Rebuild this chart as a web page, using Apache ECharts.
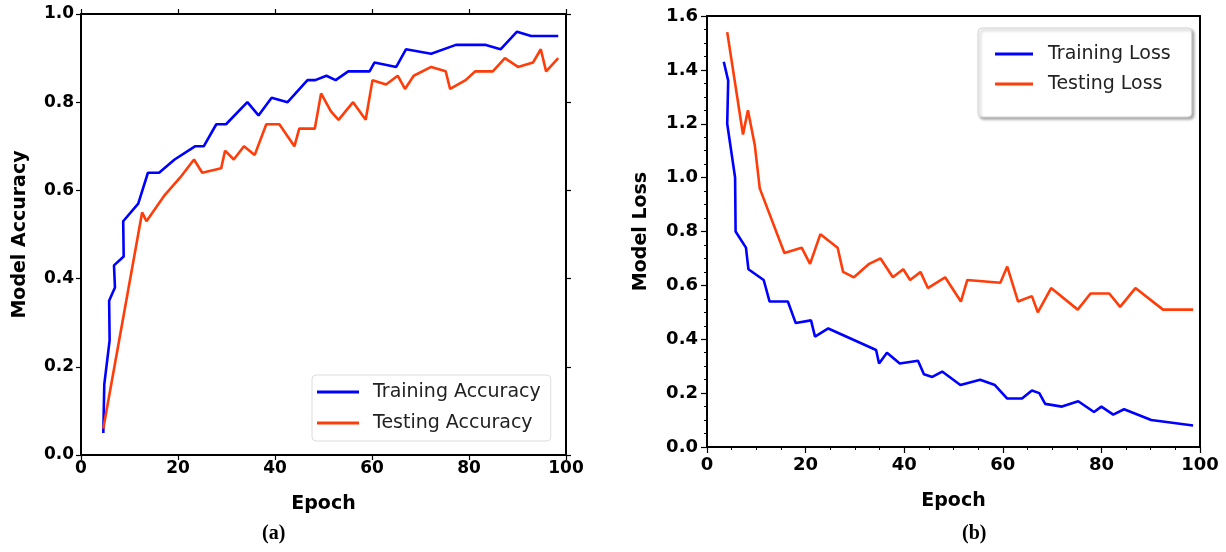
<!DOCTYPE html>
<html>
<head>
<meta charset="utf-8">
<script src="https://cdn.jsdelivr.net/npm/echarts@6/dist/echarts.min.js"></script>
<style>
  html, body { margin: 0; padding: 0; background: #ffffff; }
  #chart { width: 1226px; height: 552px; }
</style>
</head>
<body>
<div id="chart"></div>
<script>
// Accuracy panel (a): epoch positions and values
const accTrainEpoch = [4.6, 4.8, 5.9, 5.8, 7.0, 6.8, 8.8, 8.7, 11.8, 13.8, 16.1, 19.3, 23.5, 25.3, 27.9, 29.9, 34.3, 36.6, 39.3, 42.6, 46.7, 48.3, 50.6, 52.5, 55.1, 59.5, 60.5, 65.0, 67.0, 72.2, 77.3, 83.3, 86.5, 89.9, 92.8, 98.4];
const accTrainValue = [0.05, 0.16, 0.26, 0.35, 0.38, 0.43, 0.45, 0.53, 0.57, 0.64, 0.64, 0.67, 0.70, 0.70, 0.75, 0.75, 0.80, 0.77, 0.81, 0.80, 0.85, 0.85, 0.86, 0.85, 0.87, 0.87, 0.89, 0.88, 0.92, 0.91, 0.93, 0.93, 0.92, 0.96, 0.95, 0.95];
const accTestEpoch = [4.6, 12.6, 13.5, 17.3, 20.5, 23.3, 25.0, 28.9, 29.7, 31.5, 33.6, 35.8, 38.2, 40.9, 44.0, 45.0, 48.2, 49.5, 51.5, 53.1, 56.1, 58.7, 60.1, 62.9, 65.3, 66.8, 68.6, 72.2, 75.2, 76.1, 79.3, 81.3, 84.9, 87.4, 90.1, 93.2, 94.8, 95.9, 98.4];
const accTestValue = [0.06, 0.55, 0.53, 0.59, 0.63, 0.67, 0.64, 0.65, 0.69, 0.67, 0.70, 0.68, 0.75, 0.75, 0.70, 0.74, 0.74, 0.82, 0.78, 0.76, 0.80, 0.76, 0.85, 0.84, 0.86, 0.83, 0.86, 0.88, 0.87, 0.83, 0.85, 0.87, 0.87, 0.90, 0.88, 0.89, 0.92, 0.87, 0.90];

// Loss panel (b): epoch positions and values
const lossTrainEpoch = [3.4, 4.3, 4.1, 5.7, 5.8, 7.9, 8.4, 11.5, 12.7, 16.4, 18.0, 21.1, 21.9, 24.6, 34.3, 34.9, 36.5, 39.1, 42.8, 44.0, 45.7, 47.7, 51.4, 55.4, 58.4, 60.9, 63.9, 65.9, 67.4, 68.6, 72.0, 75.3, 78.5, 80.0, 82.4, 84.6, 90.1, 98.6];
const lossTrainValue = [1.43, 1.36, 1.20, 1.00, 0.80, 0.74, 0.66, 0.62, 0.54, 0.54, 0.46, 0.47, 0.41, 0.44, 0.36, 0.31, 0.35, 0.31, 0.32, 0.27, 0.26, 0.28, 0.23, 0.25, 0.23, 0.18, 0.18, 0.21, 0.20, 0.16, 0.15, 0.17, 0.13, 0.15, 0.12, 0.14, 0.10, 0.08];
const lossTestEpoch = [4.1, 7.3, 8.3, 9.7, 10.7, 15.7, 19.2, 20.9, 23.0, 26.5, 27.6, 29.8, 32.9, 35.2, 37.7, 39.8, 41.2, 43.3, 44.8, 48.3, 51.5, 52.8, 59.5, 60.9, 63.1, 65.9, 67.1, 69.8, 75.2, 77.8, 81.6, 83.8, 86.9, 92.5, 98.6];
const lossTestValue = [1.54, 1.16, 1.25, 1.12, 0.96, 0.72, 0.74, 0.68, 0.79, 0.74, 0.65, 0.63, 0.68, 0.70, 0.63, 0.66, 0.62, 0.65, 0.59, 0.63, 0.54, 0.62, 0.61, 0.67, 0.54, 0.56, 0.50, 0.59, 0.51, 0.57, 0.57, 0.52, 0.59, 0.51, 0.51];

// Axis tick labels
const epochTicks = ['0', '20', '40', '60', '80', '100'];
const accTicks = ['0.0', '0.2', '0.4', '0.6', '0.8', '1.0'];
const lossTicks = ['0.0', '0.2', '0.4', '0.6', '0.8', '1.0', '1.2', '1.4', '1.6'];

const BLUE = '#0000ff';
const RED = '#ff3d0a';
const SANS = 'DejaVu Sans';

const zip = (xs, ys) => xs.map((x, i) => [x, ys[i]]);

const chart = echarts.init(document.getElementById('chart'), null, { renderer: 'canvas' });

// Shared look for every axis line that frames a panel
function frameAxis(extra) {
  return Object.assign({
    type: 'value',
    axisLine: { show: true, onZero: false, lineStyle: { color: '#000', width: 2 } },
    axisTick: { show: false },
    axisLabel: { show: false },
    splitLine: { show: false },
    z: 5
  }, extra);
}

function labelStyle(size) {
  return { color: '#000', fontFamily: SANS, fontWeight: 'bold', fontSize: size };
}

const tickStyle = (len) => ({ show: true, inside: false, length: len, lineStyle: { color: '#000', width: 1.2 } });
const nameStyle = { fontFamily: SANS, fontWeight: 'bold', fontSize: 19, color: '#000' };

const option = {
  backgroundColor: '#ffffff',
  animation: false,
  grid: [
    { left: 81, top: 14, width: 485, height: 441 },
    { left: 707, top: 16, width: 493, height: 431 }
  ],
  xAxis: [
    frameAxis({
      gridIndex: 0, position: 'bottom', min: 0, max: 100, interval: 20,
      axisTick: tickStyle(5),
      axisLabel: { show: true, margin: 5, ...labelStyle(17), formatter: v => epochTicks[v / 20] },
      name: 'Epoch', nameLocation: 'middle', nameGap: 40, nameTextStyle: nameStyle
    }),
    frameAxis({
      gridIndex: 0, position: 'top', min: 0, max: 100, interval: 20,
      axisTick: tickStyle(5)
    }),
    frameAxis({
      gridIndex: 1, position: 'bottom', min: 0, max: 100, interval: 20,
      axisTick: tickStyle(6),
      minorTick: { show: true, splitNumber: 4, length: 3, lineStyle: { color: '#000', width: 1 } },
      axisLabel: { show: true, margin: 9, ...labelStyle(18), formatter: v => epochTicks[v / 20] },
      name: 'Epoch', nameLocation: 'middle', nameGap: 45, nameTextStyle: nameStyle
    }),
    frameAxis({ gridIndex: 1, position: 'top', min: 0, max: 100 })
  ],
  yAxis: [
    frameAxis({
      gridIndex: 0, position: 'left', min: 0, max: 1, interval: 0.2,
      axisTick: tickStyle(5),
      axisLabel: { show: true, margin: 7, ...labelStyle(17), formatter: v => accTicks[Math.round(v / 0.2)] },
      name: 'Model Accuracy', nameLocation: 'middle', nameGap: 51, nameTextStyle: nameStyle
    }),
    frameAxis({
      gridIndex: 0, position: 'right', min: 0, max: 1, interval: 0.2,
      axisTick: tickStyle(5)
    }),
    frameAxis({
      gridIndex: 1, position: 'left', min: 0, max: 1.6, interval: 0.2,
      axisTick: tickStyle(6),
      minorTick: { show: true, splitNumber: 4, length: 3, lineStyle: { color: '#000', width: 1 } },
      axisLabel: { show: true, margin: 9, ...labelStyle(18), formatter: v => lossTicks[Math.round(v / 0.2)] },
      name: 'Model Loss', nameLocation: 'middle', nameGap: 56, nameTextStyle: nameStyle
    }),
    frameAxis({ gridIndex: 1, position: 'right', min: 0, max: 1.6 })
  ],
  legend: [
    {
      data: ['Training Accuracy', 'Testing Accuracy'],
      orient: 'vertical', left: 312, top: 375,
      padding: [7, 10, 8, 5], itemGap: 11,
      icon: 'rect', itemWidth: 42, itemHeight: 3,
      backgroundColor: '#ffffff', borderColor: '#dddddd', borderWidth: 1, borderRadius: 4,
      textStyle: { fontFamily: SANS, fontSize: 19, color: '#222', lineHeight: 20, padding: [0, 0, 0, 9] }
    },
    {
      data: ['Training Loss', 'Testing Loss'],
      orient: 'vertical', left: 978, top: 28,
      padding: [16, 21, 23, 17], itemGap: 10,
      icon: 'rect', itemWidth: 38, itemHeight: 3,
      backgroundColor: '#ffffff', borderColor: '#d6d6d6', borderWidth: 1, borderRadius: 4,
      shadowColor: 'rgba(0,0,0,0.35)', shadowBlur: 3, shadowOffsetX: 2, shadowOffsetY: 2,
      textStyle: { fontFamily: SANS, fontSize: 19, color: '#222', lineHeight: 20, padding: [0, 0, 0, 10] }
    }
  ],
  graphic: [
    { type: 'text', left: 262, top: 524, style: { text: '(a)', fontFamily: 'Liberation Serif', fontWeight: 'bold', fontSize: 20, fill: '#000' } },
    { type: 'text', left: 962, top: 524, style: { text: '(b)', fontFamily: 'Liberation Serif', fontWeight: 'bold', fontSize: 20, fill: '#000' } }
  ],
  series: [
    { name: 'Training Accuracy', type: 'line', xAxisIndex: 0, yAxisIndex: 0, data: zip(accTrainEpoch, accTrainValue), showSymbol: false, symbol: 'none', color: BLUE, lineStyle: { width: 2.6, color: BLUE }, z: 3 },
    { name: 'Testing Accuracy', type: 'line', xAxisIndex: 0, yAxisIndex: 0, data: zip(accTestEpoch, accTestValue), showSymbol: false, symbol: 'none', color: RED, lineStyle: { width: 2.6, color: RED }, z: 3 },
    { name: 'Training Loss', type: 'line', xAxisIndex: 2, yAxisIndex: 2, data: zip(lossTrainEpoch, lossTrainValue), showSymbol: false, symbol: 'none', color: BLUE, lineStyle: { width: 2.6, color: BLUE }, z: 3 },
    { name: 'Testing Loss', type: 'line', xAxisIndex: 2, yAxisIndex: 2, data: zip(lossTestEpoch, lossTestValue), showSymbol: false, symbol: 'none', color: RED, lineStyle: { width: 2.6, color: RED }, z: 3 }
  ]
};

chart.setOption(option);
</script>
</body>
</html>
